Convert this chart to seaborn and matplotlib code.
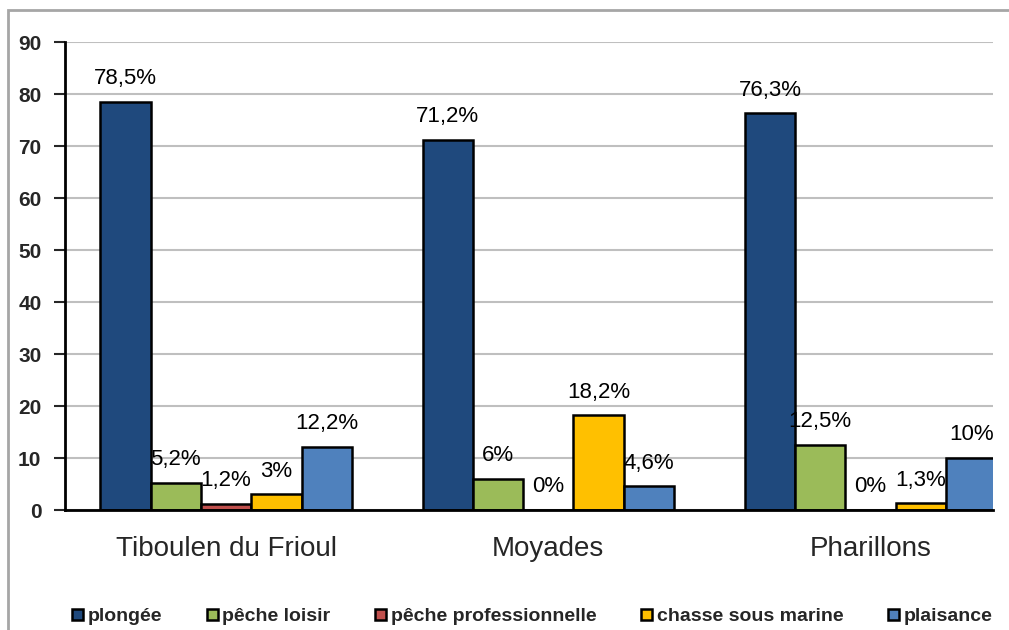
import matplotlib
matplotlib.use("Agg")
import matplotlib.pyplot as plt
import pandas as pd
import seaborn as sns
from matplotlib.patches import Rectangle

# ── Data ──────────────────────────────────────────────────────────────────────
sites      = ["Tiboulen du Frioul", "Moyades", "Pharillons"]
activities = ["plongée", "pêche loisir", "pêche professionnelle",
              "chasse sous marine", "plaisance"]
plongee      = [78.5, 71.2, 76.3]
peche_loisir = [5.2, 6.0, 12.5]
peche_pro    = [1.2, 0.0, 0.0]
chasse       = [3.0, 18.2, 1.3]
plaisance    = [12.2, 4.6, 10.0]
yticks       = [0, 10, 20, 30, 40, 50, 60, 70, 80, 90]

colors = ["#1F497D", "#9BBB59", "#C0504D", "#FFC000", "#4F81BD"]

series = [plongee, peche_loisir, peche_pro, chasse, plaisance]
df = pd.DataFrame([
    {"site": s, "activite": a, "valeur": v}
    for a, vals in zip(activities, series)
    for s, v in zip(sites, vals)
])


def fmt(v):
    txt = f"{v:g}".replace(".", ",")
    return txt + "%"


# ── Plot ──────────────────────────────────────────────────────────────────────
sns.set_style("white")
plt.rcParams["font.family"] = ["Liberation Sans", "DejaVu Sans"]

fig = plt.figure(figsize=(10.09, 6.3), dpi=100)
ax = fig.add_axes([65 / 1009, 1 - 510 / 630, (993 - 65) / 1009, (510 - 42) / 630])

sns.barplot(data=df, x="site", y="valeur", hue="activite",
            order=sites, hue_order=activities,
            palette=dict(zip(activities, colors)),
            edgecolor="black", linewidth=1.8, width=0.78, gap=0,
            saturation=1, ax=ax, legend=True)

for cont, vals in zip(ax.containers, series):
    ax.bar_label(cont, labels=[fmt(v) for v in vals], padding=9,
                 fontsize=16, color="black")

ax.set_ylim(0, 90)
ax.set_xlim(-0.5, 2.38)
ax.set_yticks(yticks)
ax.set_yticklabels([str(t) for t in yticks], fontsize=15, fontweight="bold")
ax.yaxis.grid(True, color="#BFBFBF", linewidth=1.5)
ax.set_axisbelow(True)

ax.set_xticks(range(len(sites)))
ax.set_xticklabels(sites, fontsize=20)
ax.tick_params(axis="x", which="major", length=0, pad=19)
ax.set_xticks([-0.5, 0.5, 1.5], minor=True)
ax.tick_params(axis="x", which="minor", length=8, width=1.5, direction="out")
ax.tick_params(axis="y", length=8, width=1.5, direction="out", pad=9, left=True)
ax.set_xlabel("")
ax.set_ylabel("")

for side in ["top", "right"]:
    ax.spines[side].set_visible(False)
for side in ["left", "bottom"]:
    ax.spines[side].set_color("black")
    ax.spines[side].set_linewidth(2)

handles, labels = ax.get_legend_handles_labels()
ax.get_legend().remove()
fig.legend(handles, labels, loc="center left", bbox_to_anchor=(0.0714, 0.021),
           ncol=5, frameon=False, handlelength=0.55,
           handleheight=0.55, handletextpad=0.25, columnspacing=2.3,
           borderaxespad=0, borderpad=0,
           prop={"weight": "bold", "size": 14})

# outer chart frame (cut by the image edge on right and bottom)
fig.add_artist(Rectangle((8 / 1009, -0.1), 1.2, 1 - 10 / 630 + 0.1,
                         transform=fig.transFigure, fill=False,
                         edgecolor="#A6A6A6", linewidth=2))

plt.savefig("out.png", dpi=100)
plt.close()
